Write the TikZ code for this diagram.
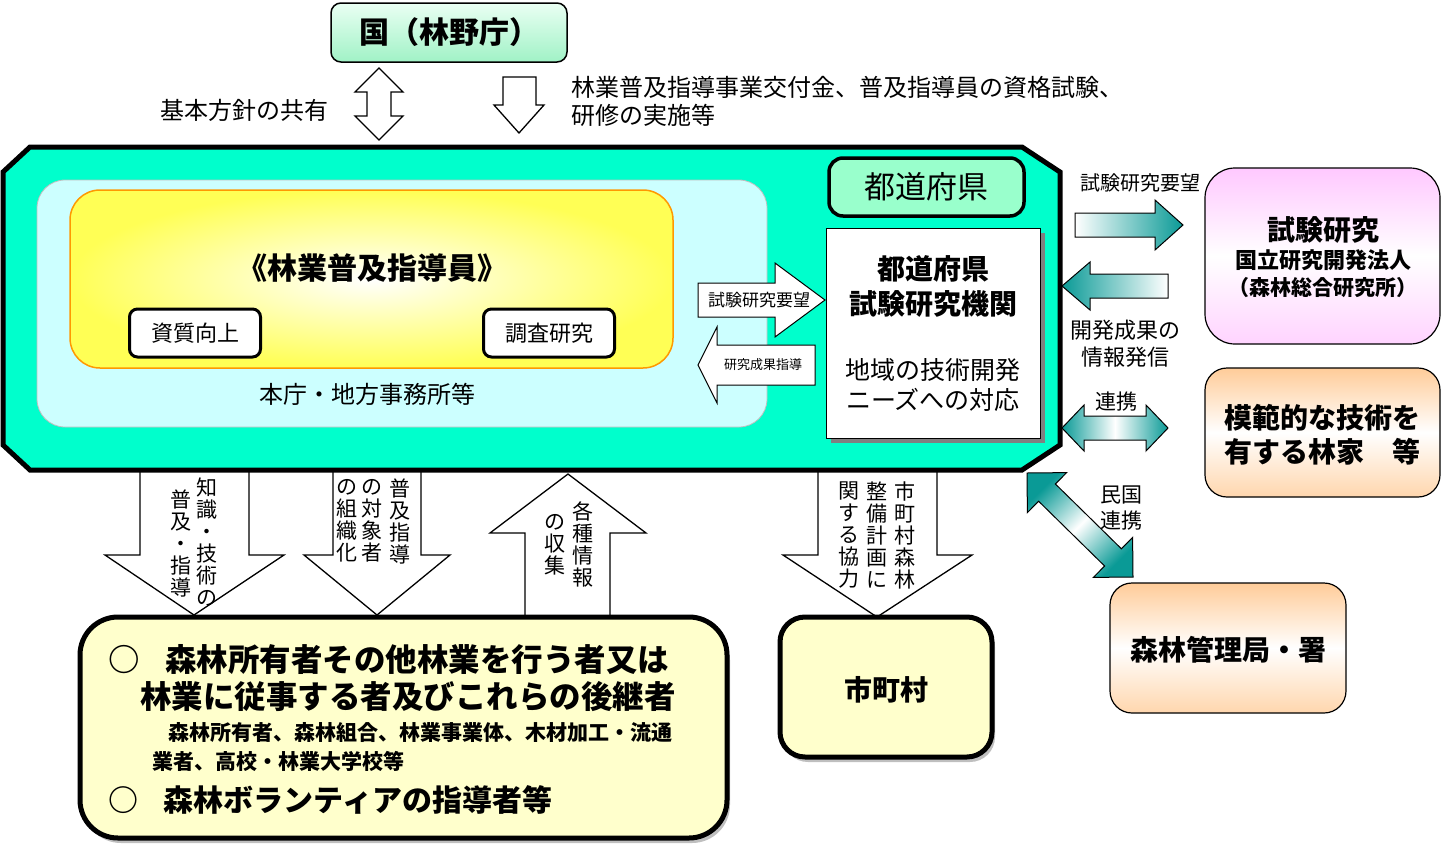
\documentclass[tikz,border=0pt]{standalone}
\usepackage{fontspec}
\setmainfont{Noto Sans CJK JP}
\usetikzlibrary{shadows}
\newcommand{\fsz}[1]{\fontsize{#1}{#1}\selectfont}
\definecolor{octa}{HTML}{00FFCC}
\definecolor{lcyan}{HTML}{CCFFFF}
\definecolor{ylw}{HTML}{FFFF55}
\definecolor{orng}{HTML}{FF9900}
\definecolor{mint}{HTML}{99FFCC}
\definecolor{teal2}{HTML}{0A9A96}
\definecolor{cream}{HTML}{FFFFCC}
\definecolor{pinkc}{HTML}{FFC8FF}
\definecolor{peach}{HTML}{FFCC99}
\definecolor{kunitop}{HTML}{EAFFF3}
\definecolor{kunibot}{HTML}{A0F2C6}
\begin{document}
\begin{tikzpicture}[x=1pt,y=-1pt,
  every node/.style={inner sep=0pt, outer sep=0pt},
  wbox/.style={draw, line width=3pt, fill=white, rounded corners=8pt, minimum width=131pt, minimum height=48pt, font=\fsz{22}},
  blockarrow/.style={draw, fill=white, line width=1.3pt, line join=miter},
  garrow/.style={draw, line width=1pt, line join=miter},
  vtext/.style={align=center, font=\fontsize{21}{22}\selectfont, anchor=north},
  softshadow/.style={drop shadow={shadow xshift=3pt, shadow yshift=-5pt, fill=black, opacity=0.25}},
]
\useasboundingbox (0,0) rectangle (1443,849);

% ---------- top ----------
\node[draw, line width=1.5pt, rounded corners=10pt, top color=kunitop, bottom color=kunibot,
      minimum width=236pt, minimum height=59pt, font=\fsz{30}\bfseries] (kuni) at (449,32.5) {国（林野庁）};
\draw[blockarrow] (379,68) -- (403,92) -- (391,92) -- (391,116) -- (403,116) -- (379,140)
  -- (355,116) -- (367,116) -- (367,92) -- (355,92) -- cycle;
\draw[blockarrow] (503,77) -- (536,77) -- (536,105) -- (544,105) -- (519,133) -- (494,105) -- (503,105) -- cycle;
\node[font=\fsz{24}] (lbl1) at (244,110) {基本方針の共有};
\node[anchor=west, align=left, font=\fontsize{24}{28}\selectfont] (lbl2) at (571,101)
  {林業普及指導事業交付金、普及指導員の資格試験、\\研修の実施等};

% ---------- bottom block arrows (under the octagon) ----------
\draw[blockarrow] (140,465) -- (249,465) -- (249,555) -- (284,555) -- (194,615) -- (105,555) -- (140,555) -- cycle;
\draw[blockarrow] (333,465) -- (421,465) -- (421,555) -- (450,555) -- (377,615) -- (304,555) -- (333,555) -- cycle;
\draw[blockarrow] (568,474) -- (646,533) -- (610,533) -- (610,625) -- (525,625) -- (525,533) -- (490,533) -- cycle;
\draw[blockarrow] (818,465) -- (937,465) -- (937,555) -- (972,555) -- (877,617) -- (783,555) -- (818,555) -- cycle;

% ---------- octagon ----------
\draw[line width=5pt, fill=octa, line join=miter] (30,147) -- (1022,147) -- (1060,172) -- (1060,445)
  -- (1022,470) -- (30,470) -- (3,445) -- (3,172) -- cycle;

\node[draw=gray!50, line width=0.8pt, fill=lcyan, rounded corners=28pt, minimum width=730pt, minimum height=247pt] (honcho) at (402,303.5) {};
\node[draw=orng, line width=1.5pt, inner color=white, outer color=ylw, rounded corners=30pt,
      minimum width=603pt, minimum height=178pt] (ybox) at (371.5,279) {};
\node[font=\fsz{30}\bfseries] (shidoin) at (372,268) {《林業普及指導員》};
\node[wbox] (shishitsu) at (195,333) {資質向上};
\node[wbox] (chosa) at (549,333) {調査研究};
\node[font=\fsz{24}] (honcholbl) at (367,394) {本庁・地方事務所等};

\node[draw, line width=3.5pt, fill=mint, rounded corners=14pt, minimum width=195pt, minimum height=58pt,
      font=\fsz{31}] (todofuken) at (926.5,187) {都道府県};
\node[draw, line width=1pt, fill=white, minimum width=214pt, minimum height=210pt,
      drop shadow={shadow xshift=5pt, shadow yshift=-5pt, fill=gray, opacity=1}] (kikan) at (933,333) {};
\node[font=\fontsize{28}{35}\selectfont\bfseries, align=center] (kikan1) at (933,286) {都道府県\\試験研究機関};
\node[font=\fontsize{25}{30}\selectfont, align=center] (kikan2) at (933,385) {地域の技術開発\\ニーズへの対応};

\draw[blockarrow, line width=1pt] (698,283) -- (775,283) -- (775,263) -- (825,300) -- (775,337) -- (775,317) -- (698,317) -- cycle;
\node[font=\fsz{17}] (yobo1) at (759,300) {試験研究要望};
\draw[blockarrow, line width=1pt] (698,365) -- (717,327) -- (717,345) -- (815,345) -- (815,385) -- (717,385) -- (717,403) -- cycle;
\node[font=\fsz{13}] (seika) at (763,365) {研究成果指導};

% ---------- right side ----------
\shadedraw[garrow, left color=white, right color=teal2] (1075,213) -- (1155,213) -- (1155,200) -- (1183,225)
  -- (1155,250) -- (1155,237) -- (1075,237) -- cycle;
\shadedraw[garrow, left color=teal2, right color=white] (1062,286) -- (1090,262) -- (1090,274) -- (1168,274)
  -- (1168,298) -- (1090,298) -- (1090,310) -- cycle;
\shadedraw[garrow, left color=teal2, right color=teal2, middle color=white] (1062,428) -- (1084,405) -- (1084,416)
  -- (1146,416) -- (1146,405) -- (1168,428) -- (1146,451) -- (1146,440) -- (1084,440) -- (1084,451) -- cycle;
\shadedraw[garrow, left color=teal2, right color=teal2, middle color=white, shading angle=45]
  (1027,473) -- (1027.4,512.6) -- (1038.6,501.2) -- (1104.6,566.0) -- (1093.4,577.4) -- (1133,577)
  -- (1132.6,537.4) -- (1121.4,548.8) -- (1055.4,484.0) -- (1066.6,472.6) -- cycle;

\node[font=\fsz{20}] (yobo2) at (1140,183) {試験研究要望};
\node[font=\fontsize{22}{27}\selectfont, align=center] (hasshin) at (1125,344) {開発成果の\\情報発信};
\node[font=\fsz{21}] (renkei) at (1116,402) {連携};
\node[font=\fontsize{21}{26}\selectfont, align=center] (minkoku) at (1121,508) {民国\\連携};

\node[draw, line width=1.2pt, rounded corners=30pt, top color=pinkc, bottom color=pinkc!80, middle color=white,
      minimum width=235pt, minimum height=176pt] (shiken) at (1322.5,256) {};
\node[font=\fsz{28}\bfseries] (shiken1) at (1323,230) {試験研究};
\node[font=\fsz{22}\bfseries] (shiken2) at (1323,260) {国立研究開発法人};
\node[font=\fsz{21}\bfseries] (shiken3) at (1323,288) {（森林総合研究所）};

\node[draw, line width=1.2pt, rounded corners=22pt, top color=peach, bottom color=peach!80, middle color=white,
      minimum width=235pt, minimum height=129pt] (mohan) at (1322.5,432.5) {};
\node[font=\fontsize{28}{34}\selectfont\bfseries, align=left] (mohan1) at (1322,435) {模範的な技術を\\有する林家　等};

\node[draw, line width=1.2pt, rounded corners=22pt, top color=peach, bottom color=peach!80, middle color=white,
      minimum width=236pt, minimum height=130pt] (kanri) at (1228,648) {};
\node[font=\fsz{28}\bfseries] (kanri1) at (1228,650) {森林管理局・署};

% ---------- vertical texts ----------
\node[vtext] (va1) at (207,478) {知\\識\\・\\技\\術\\の};
\node[vtext] (va2) at (181,490) {普\\及\\・\\指\\導};
\node[vtext] (vb1) at (400,479) {普\\及\\指\\導};
\node[vtext] (vb2) at (372,479) {の\\対\\象\\者};
\node[vtext] (vb3) at (347,479) {の\\組\\織\\化};
\node[vtext] (vc1) at (583,502) {各\\種\\情\\報};
\node[vtext] (vc2) at (555,514) {の\\収\\集};
\node[vtext] (vd1) at (905,482) {市\\町\\村\\森\\林};
\node[vtext] (vd2) at (877,482) {整\\備\\計\\画\\に};
\node[vtext] (vd3) at (849,482) {関\\す\\る\\協\\力};

% ---------- bottom boxes ----------
\node[draw, line width=5pt, fill=cream, rounded corners=38pt, minimum width=647pt, minimum height=221pt, softshadow] (owners) at (403.5,727.5) {};
\node[anchor=west, font=\fsz{31.5}\bfseries] (o1) at (108,660) {○\hspace{26pt}森林所有者その他林業を行う者又は};
\node[anchor=west, font=\fsz{31.5}\bfseries] (o2) at (140,697) {林業に従事する者及びこれらの後継者};
\node[anchor=west, font=\fsz{21}\bfseries] (o3) at (168,733) {森林所有者、森林組合、林業事業体、木材加工・流通};
\node[anchor=west, font=\fsz{21}\bfseries] (o4) at (152,761) {業者、高校・林業大学校等};
\node[anchor=west, font=\fsz{30}\bfseries] (o5) at (108,800) {○\hspace{26pt}森林ボランティアの指導者等};

\node[draw, line width=5pt, fill=cream, rounded corners=25pt, minimum width=212pt, minimum height=140pt, softshadow] (shichoson) at (886,687) {};
\node[font=\fsz{28}\bfseries] (shichoson1) at (886,690) {市町村};
\end{tikzpicture}
\end{document}
